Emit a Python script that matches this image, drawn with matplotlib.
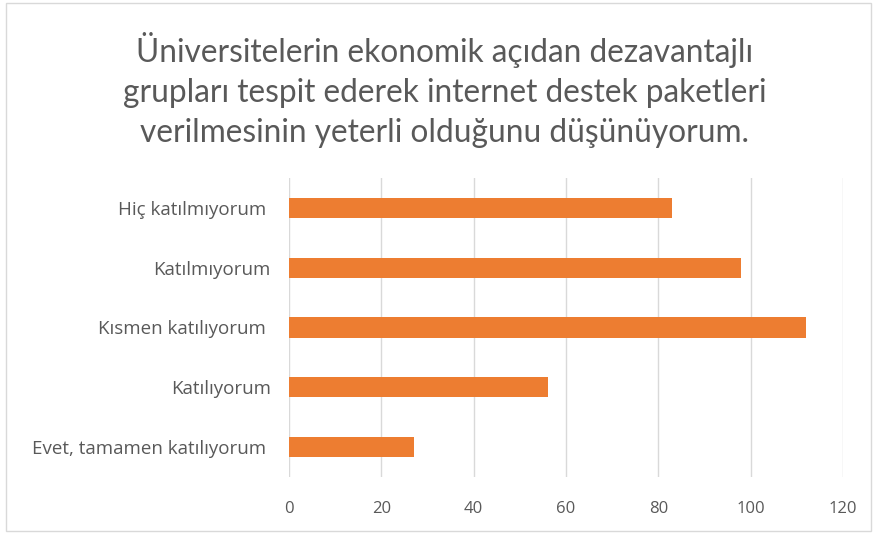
import matplotlib
matplotlib.use('Agg')
import matplotlib.pyplot as plt
from matplotlib.patches import Rectangle

plt.rcParams['font.family'] = ['Lato', 'DejaVu Sans']

# data, top to bottom as in the chart
categories = ['Hiç katılmıyorum ', 'Katılmıyorum', 'Kısmen katılıyorum ',
              'Katılıyorum', 'Evet, tamamen katılıyorum ']
values = [83, 98, 112, 56, 27]
x_ticks = [0, 20, 40, 60, 80, 100, 120]

title = ('Üniversitelerin ekonomik açıdan dezavantajlı\n'
         'grupları tespit ederek internet destek paketleri\n'
         'verilmesinin yeterli olduğunu düşünüyorum.')

text_color = '#595959'
bar_color = '#ED7D31'
grid_color = '#D9D9D9'
tick_font = ['Open Sans', 'DejaVu Sans']

fig = plt.figure(figsize=(8.75, 5.34), dpi=100)
ax = fig.add_axes([289 / 875, 1 - 477 / 534, (843 - 289) / 875, (477 - 178) / 534])

y_pos = list(range(len(categories)))
ax.barh(y_pos, values, height=0.34, color=bar_color, zorder=3)
ax.set_ylim(len(categories) - 0.5, -0.5)
ax.set_xlim(0, 120)
ax.set_yticks(y_pos)
ax.set_yticklabels(categories, fontsize=13.5, color=text_color, family=tick_font)
ax.set_xticks(x_ticks)
ax.set_xticklabels([str(t) for t in x_ticks], fontsize=12, color=text_color,
                   family=tick_font)
ax.tick_params(axis='both', length=0)
ax.tick_params(axis='x', pad=17)
ax.tick_params(axis='y', pad=13)
ax.grid(axis='x', color=grid_color, linewidth=1, zorder=0)
for s in ax.spines.values():
    s.set_visible(False)

fig.text(445 / 875, 1 - 90 / 534, title, ha='center', va='center',
         fontsize=22.8, color=text_color, linespacing=1.4)

# chart border
fig.patches.append(Rectangle((6 / 875, 3 / 534), 865 / 875, 528 / 534,
                             transform=fig.transFigure, fill=False,
                             edgecolor=grid_color, linewidth=1))

fig.savefig('out.png', dpi=100)
